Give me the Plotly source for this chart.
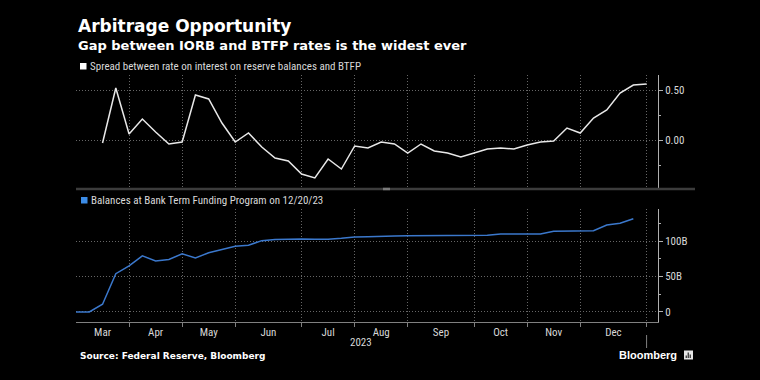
import pandas as pd
import plotly.graph_objects as go

# ---------------- data ----------------
weeks = pd.date_range("2023-03-10", "2024-01-05", freq="W-FRI")  # weekly observations

spread_start = 2
spread = [-0.03, 0.52, 0.06, 0.21, 0.08, -0.04, -0.02, 0.45, 0.41, 0.17,
          -0.02, 0.07, -0.07, -0.18, -0.21, -0.34, -0.38, -0.19, -0.29, -0.06,
          -0.08, -0.02, -0.04, -0.13, -0.04, -0.11, -0.13, -0.17, -0.13, -0.09,
          -0.08, -0.09, -0.05, -0.02, -0.01, 0.12, 0.07, 0.22, 0.30, 0.47,
          0.55, 0.56]

balance_start = 0
balances = [0, 0, 11, 54, 65, 79, 72, 74, 82, 76,
            83.5, 88, 92.5, 94, 100.5, 102.3, 103, 103, 102.5, 102.5,
            103.8, 105.6, 106, 106.8, 107.2, 107.3, 107.3, 107.6, 108, 107.6,
            107.6, 108, 109.8, 109.8, 109.8, 109.8, 113.6, 113.6, 114.6, 114.6,
            122.5, 125, 131.4]

spread_ticks = [0.0, 0.5]
spread_ticktext = ["0.00", "0.50"]
balance_ticks = [0, 50, 100]
balance_ticktext = ["0", "50B", "100B"]

title = "Arbitrage Opportunity"
subtitle = "Gap between IORB and BTFP rates is the widest ever"
legend1 = "Spread between rate on interest on reserve balances and BTFP"
legend2 = "Balances at Bank Term Funding Program on 12/20/23"
source = "Source: Federal Reserve, Bloomberg"
year_label = "2023"

# --------------- derived axis positions ---------------
week_pos = list(range(len(weeks)))
spread_x = week_pos[spread_start:spread_start + len(spread)]
balance_x = week_pos[balance_start:balance_start + len(balances)]

bounds = [0] + [i for i in range(1, len(weeks)) if weeks[i].month != weeks[i - 1].month]
month_bounds = bounds[1:]
month_centers = [(bounds[i] + bounds[i + 1]) / 2 for i in range(len(bounds) - 1)]
month_names = [weeks[bounds[i]].strftime("%b") for i in range(len(bounds) - 1)]

# --------------- layout geometry (pixels) ---------------
W, H = 760, 380
L, R, T, B = 76, 658, 75, 322
PW, PH = R - L, B - T


def px(xp):
    return (xp - L) / PW


def py(yp):
    return (B - yp) / PH


top_dom = [py(188), 1.0]
bot_dom = [0.0, py(209)]

GRID = "#666666"
GDASH = "1px,2px"
AXIS = "#b0b0b0"
TXT = "#d8d8d8"
SMALL_FONT = "Liberation Sans Narrow, Roboto Condensed, Roboto, sans-serif"
BOLD_FONT = "DejaVu Sans, Liberation Sans, sans-serif"

fig = go.Figure()
fig.add_trace(go.Scatter(x=spread_x, y=spread, mode="lines",
                         line=dict(color="#e8e8e8", width=1.5),
                         xaxis="x", yaxis="y", showlegend=False, hoverinfo="skip"))
fig.add_trace(go.Scatter(x=balance_x, y=balances, mode="lines",
                         line=dict(color="#3b78cc", width=1.5),
                         xaxis="x2", yaxis="y2", showlegend=False, hoverinfo="skip"))

xr = [0, 43.86]
common_x = dict(range=xr, zeroline=False, showgrid=False, fixedrange=True)

fig.update_layout(
    width=W, height=H,
    paper_bgcolor="#000000", plot_bgcolor="#000000",
    margin=dict(l=L, r=W - R, t=T, b=H - B),
    font=dict(family=SMALL_FONT, color=TXT, size=11),
    xaxis=dict(**common_x, anchor="y", domain=[0, 1], showticklabels=False,
               tickmode="array", tickvals=[], ticks="",
               minor=dict(tickmode="array", tickvals=month_bounds, showgrid=True,
                          gridcolor=GRID, griddash=GDASH, gridwidth=1, ticks="")),
    xaxis2=dict(**common_x, anchor="y2", domain=[0, 1],
                tickmode="array", tickvals=month_centers, ticktext=month_names,
                ticks="", showline=True, linecolor="#808080", linewidth=1,
                tickfont=dict(size=11, color=TXT, family=SMALL_FONT),
                minor=dict(tickmode="array", tickvals=month_bounds, showgrid=True,
                           gridcolor=GRID, griddash=GDASH, gridwidth=1,
                           ticks="outside", ticklen=4, tickcolor="#808080")),
    yaxis=dict(domain=top_dom, anchor="x", side="right", range=[-0.48, 0.65],
               tickmode="array", tickvals=spread_ticks, ticktext=spread_ticktext,
               showline=True, linecolor=AXIS, linewidth=1,
               ticks="outside", ticklen=4, tickcolor=AXIS,
               showgrid=True, gridcolor=GRID, griddash=GDASH, zeroline=False,
               tickfont=dict(size=11, color=TXT, family=SMALL_FONT), fixedrange=True,
               minor=dict(tickmode="array", tickvals=[-0.25, 0.25], ticks="outside",
                          ticklen=2, tickcolor=AXIS, showgrid=False)),
    yaxis2=dict(domain=bot_dom, anchor="x2", side="right", range=[-14.1, 145.1],
                tickmode="array", tickvals=balance_ticks, ticktext=balance_ticktext,
                showline=True, linecolor=AXIS, linewidth=1,
                ticks="outside", ticklen=4, tickcolor=AXIS,
                showgrid=True, gridcolor=GRID, griddash=GDASH, zeroline=False,
                tickfont=dict(size=11, color=TXT, family=SMALL_FONT), fixedrange=True,
                minor=dict(tickmode="array", tickvals=[25, 75, 125], ticks="outside",
                           ticklen=2, tickcolor=AXIS, showgrid=False)),
)

shapes = [
    # panel separator
    dict(type="line", xref="paper", yref="paper", x0=0, x1=px(695), y0=py(189), y1=py(189),
         line=dict(color="#3c3c3c", width=2.5)),
    dict(type="line", xref="paper", yref="paper", x0=px(383), x1=px(390), y0=py(189), y1=py(189),
         line=dict(color="#7a7a7a", width=2.5)),
    # year boundary tick
    dict(type="line", xref="x2", yref="paper", x0=month_bounds[-1], x1=month_bounds[-1],
         y0=py(335), y1=py(348), line=dict(color="#808080", width=1)),
    # legend squares
    dict(type="rect", xref="paper", yref="paper", x0=px(80), x1=px(86.5), y0=py(69.5), y1=py(63),
         fillcolor="#ffffff", line=dict(width=0)),
    dict(type="rect", xref="paper", yref="paper", x0=px(81), x1=px(87.5), y0=py(203.5), y1=py(197),
         fillcolor="#3c8ce6", line=dict(width=0)),
    # Bloomberg icon
    dict(type="rect", xref="paper", yref="paper", x0=px(684), x1=px(693), y0=py(359.5), y1=py(350.5),
         fillcolor="#e6e6e6", line=dict(width=0)),
]
for bx, top in [(686.2, 355.5), (688.2, 352.5), (690.2, 354.5)]:
    shapes.append(dict(type="line", xref="paper", yref="paper", x0=px(bx), x1=px(bx),
                       y0=py(358), y1=py(top), line=dict(color="#000000", width=1)))
fig.update_layout(shapes=shapes)

ann = [
    dict(text=title, x=px(76), y=py(26), font=dict(family=BOLD_FONT, size=17, color="#ffffff", weight=700)),
    dict(text=subtitle, x=px(76), y=py(45.5), font=dict(family=BOLD_FONT, size=13, color="#ffffff", weight=700)),
    dict(text=legend1, x=px(87.5), y=py(66.5), font=dict(family=SMALL_FONT, size=11, color=TXT)),
    dict(text=legend2, x=px(88.5), y=py(200.5), font=dict(family=SMALL_FONT, size=11, color=TXT)),
    dict(text=source, x=px(78), y=py(356), font=dict(family=BOLD_FONT, size=9, color="#ffffff", weight=700)),
    dict(text="Bloomberg", x=px(617), y=py(355), font=dict(family="Liberation Sans, sans-serif", size=11, color="#ffffff", weight=700)),
]
annotations = []
for a in ann:
    a.update(xref="paper", yref="paper", xanchor="left", yanchor="middle", showarrow=False)
    annotations.append(a)
annotations.append(dict(text=year_label, xref="x2", yref="paper",
                        x=(month_bounds[4] + month_bounds[5]) / 2 - 1.5, y=py(342.5),
                        xanchor="center", yanchor="middle", showarrow=False,
                        font=dict(family=SMALL_FONT, size=11, color=TXT)))
fig.update_layout(annotations=annotations)

fig.write_html("out.html", config={"displayModeBar": False},
               post_script="document.body.style.margin='0';document.body.style.background='#000';")
